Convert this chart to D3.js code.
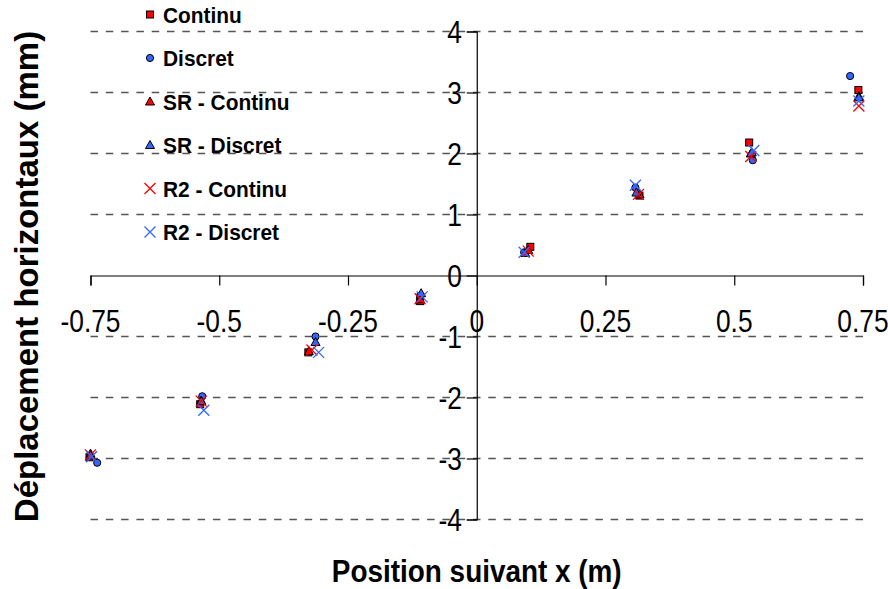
<!DOCTYPE html>
<html>
<head>
<meta charset="utf-8">
<script src="https://cdn.jsdelivr.net/npm/d3@7"></script>
<style>
  body { margin: 0; background: #fff; }
  #chart text { font-family: Arial, "Liberation Sans", sans-serif; fill: #000; }
</style>
</head>
<body>
<svg id="chart"></svg>
<script>
// series values (x in m, y in mm)
var continuX   = [-0.752, -0.537, -0.327, -0.110, 0.104, 0.316, 0.529, 0.741];
var continuY   = [-2.98, -2.11, -1.26, -0.42, 0.47, 1.31, 2.18, 3.04];
var discretX   = [-0.737, -0.533, -0.313, -0.110, 0.092, 0.308, 0.536, 0.725];
var discretY   = [-3.07, -1.98, -1.00, -0.33, 0.38, 1.44, 1.89, 3.27];
var srContinuX = [-0.750, -0.535, -0.326, -0.110, 0.100, 0.316, 0.532, 0.742];
var srContinuY = [-2.92, -2.05, -1.24, -0.39, 0.42, 1.33, 2.00, 2.94];
var srDiscretX = [-0.750, -0.535, -0.313, -0.108, 0.094, 0.310, 0.534, 0.742];
var srDiscretY = [-2.95, -2.06, -1.09, -0.29, 0.37, 1.36, 2.02, 2.92];
var r2ContinuX = [-0.750, -0.535, -0.320, -0.110, 0.100, 0.314, 0.532, 0.742];
var r2ContinuY = [-2.94, -2.06, -1.22, -0.38, 0.40, 1.33, 1.95, 2.78];
var r2DiscretX = [-0.748, -0.530, -0.307, -0.106, 0.092, 0.308, 0.538, 0.742];
var r2DiscretY = [-2.97, -2.21, -1.26, -0.35, 0.38, 1.48, 2.05, 2.86];

var seriesNames = ['Continu', 'Discret', 'SR - Continu', 'SR - Discret', 'R2 - Continu', 'R2 - Discret'];
var xTicks = [-0.75, -0.5, -0.25, 0, 0.25, 0.5, 0.75];
var yTicks = [-4, -3, -2, -1, 0, 1, 2, 3, 4];

var W = 888, H = 589;
var red = '#ff0000', blue = '#3366ff';

var series = [
  {name: seriesNames[0], xs: continuX,   ys: continuY,   shape: 'square',   fill: red},
  {name: seriesNames[1], xs: discretX,   ys: discretY,   shape: 'circle',   fill: blue},
  {name: seriesNames[2], xs: srContinuX, ys: srContinuY, shape: 'triangle', fill: red},
  {name: seriesNames[3], xs: srDiscretX, ys: srDiscretY, shape: 'triangle', fill: blue},
  {name: seriesNames[4], xs: r2ContinuX, ys: r2ContinuY, shape: 'cross',    fill: red},
  {name: seriesNames[5], xs: r2DiscretX, ys: r2DiscretY, shape: 'cross',    fill: blue}
];

var svg = d3.select('#chart').attr('width', W).attr('height', H);

var x = d3.scaleLinear().domain([-0.75, 0.75]).range([90.5, 863]);
var y = d3.scaleLinear().domain([-4, 4]).range([519.5, 31.5]);

// dashed horizontal gridlines
svg.append('g').selectAll('line').data(yTicks.filter(function(d) { return d !== 0; }))
  .enter().append('line')
  .attr('x1', x(-0.75)).attr('x2', x(0.75))
  .attr('y1', function(d) { return y(d); }).attr('y2', function(d) { return y(d); })
  .attr('stroke', '#555').attr('stroke-width', 1.4).attr('stroke-dasharray', '7.5,7.8');

// horizontal axis through y = 0, ticks pointing down
var xAxis = d3.axisBottom(x).tickValues(xTicks).tickSize(10).tickFormat('');
svg.append('g').attr('transform', 'translate(0,' + y(0) + ')').call(xAxis)
  .call(function(g) { g.selectAll('path,line').attr('stroke', '#000').attr('stroke-width', 1.2); });

// vertical axis through x = 0, ticks pointing left
var yAxis = d3.axisLeft(y).tickValues(yTicks).tickSize(10).tickFormat('');
svg.append('g').attr('transform', 'translate(' + x(0) + ',0)').call(yAxis)
  .call(function(g) { g.selectAll('path,line').attr('stroke', '#000').attr('stroke-width', 1.2); });

// tick labels, drawn a little condensed like the source
function squeezedText(parent, tx, ty, str, size, sx, anchor, weight) {
  parent.append('g')
    .attr('transform', 'translate(' + tx + ',' + ty + ') scale(' + sx + ',1)')
    .append('text')
    .attr('text-anchor', anchor)
    .attr('font-size', size)
    .attr('font-weight', weight || 'normal')
    .text(str);
}

var labels = svg.append('g');
xTicks.forEach(function(d) {
  squeezedText(labels, x(d), 332, String(d), 31, 0.85, 'middle');
});
yTicks.forEach(function(d) {
  squeezedText(labels, 462, y(d) + 11, String(d), 31, 0.85, 'end');
});

// axis titles
squeezedText(svg, x(0), 582, 'Position suivant x (m)', 31, 0.9, 'middle', 'bold');
svg.append('text')
  .attr('transform', 'translate(38,' + (y(0) + 1) + ') rotate(-90)')
  .attr('text-anchor', 'middle')
  .attr('font-size', 33).attr('font-weight', 'bold')
  .text('Déplacement horizontaux (mm)');

// marker drawing
function drawMarker(g, shape, fill) {
  if (shape === 'square') {
    g.append('rect').attr('x', -3.5).attr('y', -3.5).attr('width', 7).attr('height', 7)
      .attr('fill', fill).attr('stroke', '#000').attr('stroke-width', 1);
  } else if (shape === 'circle') {
    g.append('circle').attr('r', 3.6)
      .attr('fill', fill).attr('stroke', '#000').attr('stroke-width', 1);
  } else if (shape === 'triangle') {
    g.append('path').attr('d', 'M0,-4.5L4.5,3.5L-4.5,3.5Z')
      .attr('fill', fill).attr('stroke', '#000').attr('stroke-width', 1);
  } else {
    g.append('path').attr('d', 'M-5.5,-5.5L5.5,5.5M-5.5,5.5L5.5,-5.5')
      .attr('stroke', fill).attr('stroke-width', 1.3).attr('fill', 'none');
  }
}

series.forEach(function(s) {
  var pts = s.xs.map(function(v, i) { return [v, s.ys[i]]; });
  svg.append('g').selectAll('g').data(pts).enter().append('g')
    .attr('transform', function(d) { return 'translate(' + x(d[0]) + ',' + y(d[1]) + ')'; })
    .each(function() { drawMarker(d3.select(this), s.shape, s.fill); });
});

// legend, top left inside the plot
var legend = svg.append('g');
series.forEach(function(s, i) {
  var ly = 14.5 + i * 43.5;
  var mk = legend.append('g').attr('transform', 'translate(150,' + ly + ')');
  drawMarker(mk, s.shape, s.fill);
  squeezedText(legend, 163, ly + 8, s.name, 22, 0.95, 'start', 'bold');
});
</script>
</body>
</html>
